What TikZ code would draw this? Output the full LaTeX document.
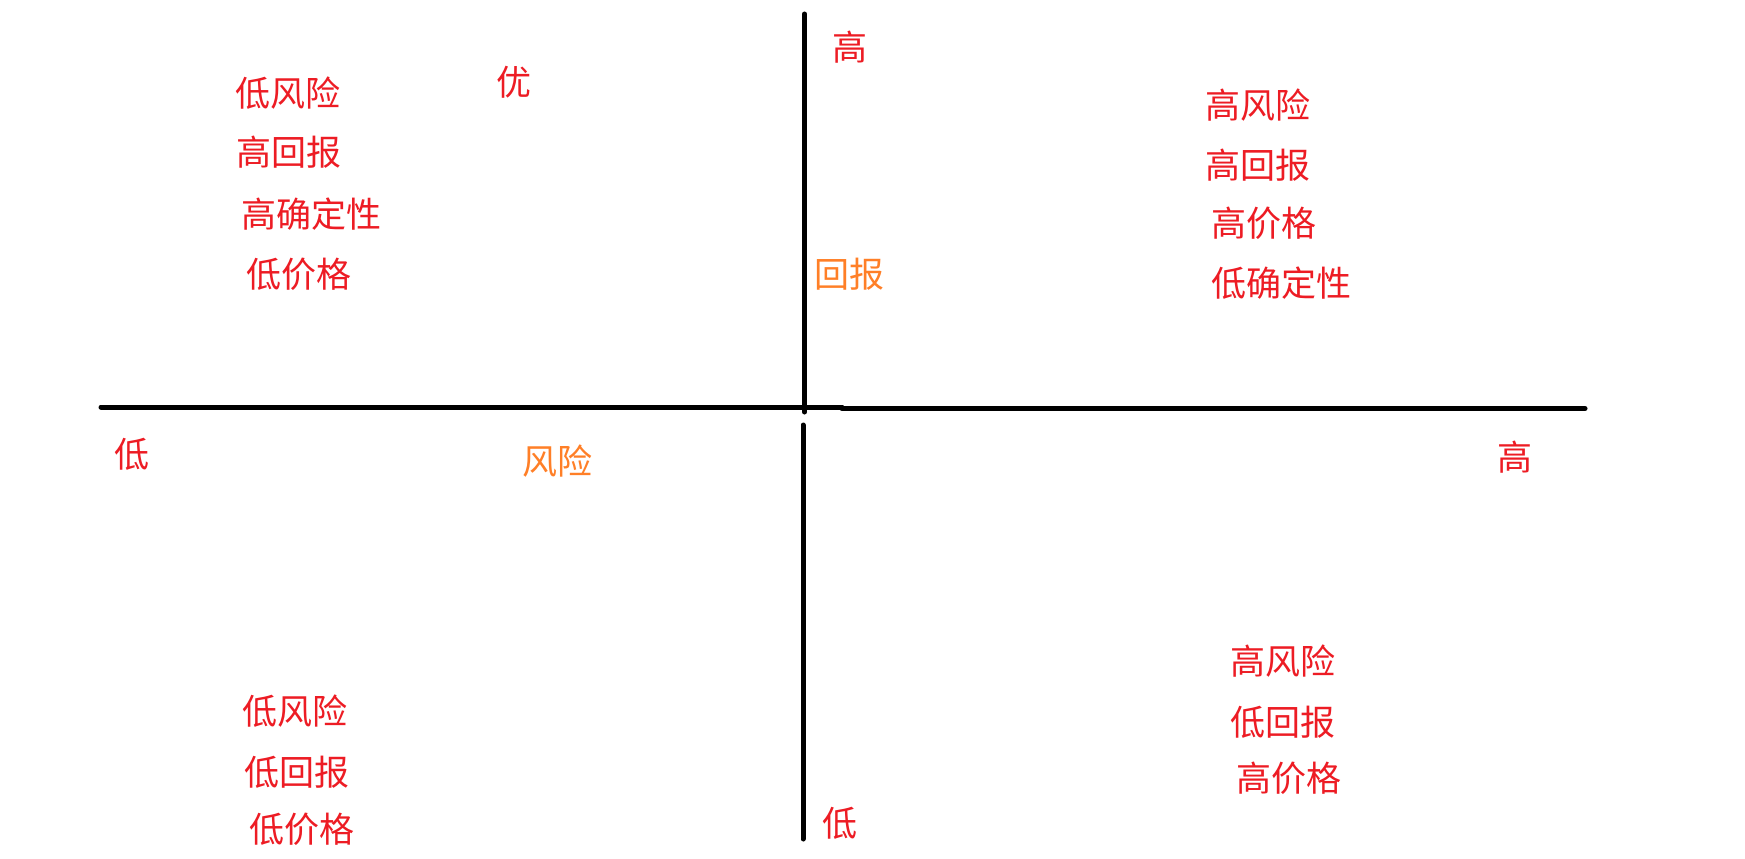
\documentclass[tikz,border=0pt]{standalone}
\usepackage{fontspec}
\newfontfamily\cjk{Noto Sans CJK SC}
\definecolor{pred}{HTML}{ED1C24}
\definecolor{porange}{HTML}{FF7F27}
\begin{document}
\begin{tikzpicture}[x=1pt,y=-1pt,
  lbl/.style={inner sep=0pt, anchor=west, text=pred, font=\cjk\fontsize{35}{35}\selectfont},
  axlbl/.style={lbl, text=porange},
  axisln/.style={line width=5pt, line cap=round, draw=black}]
\useasboundingbox[fill=white] (0,0) rectangle (1745,859);
% axes
\coordinate (hl1) at (101,407);
\coordinate (hl2) at (842,407);
\coordinate (hr1) at (842,408.5);
\coordinate (hr2) at (1585,408.5);
\coordinate (vu1) at (804.5,14);
\coordinate (vu2) at (804.5,412);
\coordinate (vl1) at (803,425);
\coordinate (vl2) at (803,839);
\draw[axisln] (hl1) -- (hl2);
\draw[axisln, line cap=butt] (hl2) -- (hr1);
\draw[axisln] (hr1) -- (hr2);
\draw[axisln] (vu1) -- (vu2);
\draw[axisln] (vl1) -- (vl2);
% axis labels
\node[lbl] (ytop) at (832,47) {高};
\node[axlbl] (yname) at (814,274) {回报};
\node[lbl] (ybot) at (822,823) {低};
\node[lbl] (xleft) at (114,454) {低};
\node[axlbl] (xname) at (522,461) {风险};
\node[lbl] (xright) at (1497,457) {高};
% top-left quadrant
\node[lbl] (you) at (496,82) {优};
\node[lbl] (tl1) at (235,93) {低风险};
\node[lbl] (tl2) at (236,152) {高回报};
\node[lbl] (tl3) at (241,214) {高确定性};
\node[lbl] (tl4) at (246,274) {低价格};
% top-right quadrant
\node[lbl] (tr1) at (1205,105) {高风险};
\node[lbl] (tr2) at (1205,165) {高回报};
\node[lbl] (tr3) at (1211,223) {高价格};
\node[lbl] (tr4) at (1211,283) {低确定性};
% bottom-left quadrant
\node[lbl] (bl1) at (242,711) {低风险};
\node[lbl] (bl2) at (244,772) {低回报};
\node[lbl] (bl3) at (249,829) {低价格};
% bottom-right quadrant
\node[lbl] (br1) at (1230,661) {高风险};
\node[lbl] (br2) at (1230,722) {低回报};
\node[lbl] (br3) at (1236,778) {高价格};
\end{tikzpicture}
\end{document}
